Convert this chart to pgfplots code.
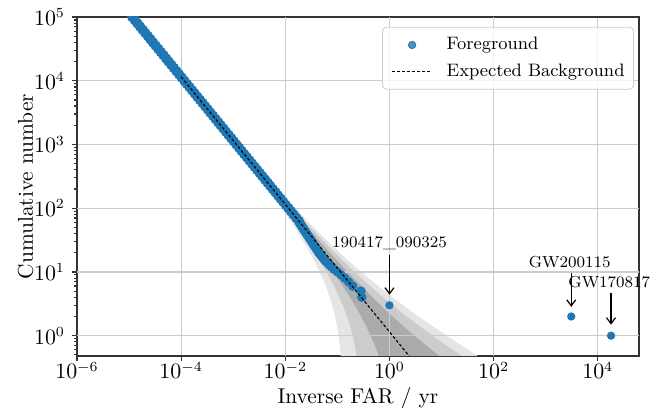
\documentclass[border=0pt]{standalone}
\usepackage{fontspec}
\usepackage{pgfplots}
\pgfplotsset{compat=1.18}
\usetikzlibrary{arrows.meta}
\definecolor{c0}{HTML}{1F77B4}
\definecolor{bandA}{gray}{0.67}
\definecolor{bandB}{gray}{0.80}
\definecolor{bandC}{gray}{0.90}
\tikzset{annarrow/.style={-{Straight Barb[length=3pt,width=4.5pt]}, line width=0.6pt},
         gridline/.style={black!20, line width=0.6pt}}
\begin{document}
\begin{tikzpicture}
\begin{axis}[
  xmode=log, ymode=log,
  scale only axis, width=281pt, height=169.5pt,
  at={(0,0)}, anchor=south west,
  xmin=1e-6, xmax=6.2e4, ymin=0.48, ymax=1e5,
  clip marker paths=true,
  xtick={1e-6,1e-4,1e-2,1,1e2,1e4},
  ytick={1,10,100,1000,10000,100000},
  minor ytick={0.5,0.6,0.7,0.8,0.9,2,3,4,5,6,7,8,9,20,30,40,50,60,70,80,90,200,300,400,500,600,700,800,900,2000,3000,4000,5000,6000,7000,8000,9000,20000,30000,40000,50000,60000,70000,80000,90000},
  tick pos=left, tick align=outside,
  major tick length=2.5pt, minor tick length=1.5pt,
  tick style={black!80, line width=0.6pt},
  grid=major, major grid style={gridline},
  axis line style={black!80, line width=0.6pt},
  ticklabel style={font=\fontsize{10.5}{12.6}\selectfont},
  xticklabel style={anchor=base, yshift=-9pt},
  label style={font=\fontsize{10.7}{12.8}\selectfont},
  xlabel={Inverse FAR / yr}, ylabel={Cumulative number},
  xlabel style={at={(axis description cs:0.5,0)}, anchor=base, yshift=-24pt},
  ylabel style={at={(axis description cs:-0.0783,0.5)}, anchor=base},
  legend cell align=left,
  legend style={at={(0.991,0.971)}, anchor=north east, draw=black!20, fill=white, fill opacity=0.8, draw opacity=1, text opacity=1, rounded corners=2pt, font=\fontsize{9}{11}\selectfont, inner xsep=4.5pt, inner ysep=5pt, row sep=5.5pt, column sep=7pt, nodes={inner sep=0pt}},
  legend image code/.code={\draw[mark repeat=2,mark phase=2,#1] plot coordinates {(0pt,0pt) (10pt,0pt) (20pt,0pt)};},
  after end axis/.code={
    \node[font=\fontsize{8}{10}\selectfont] at (axis cs:1,28.4) {190417\_090325};
    \draw[annarrow] (axis cs:1,18.5) -- (axis cs:1,4.4);
    \node[font=\fontsize{8}{10}\selectfont] at (axis cs:2900,14.3) {GW200115};
    \draw[annarrow] (axis cs:3100,9.6) -- (axis cs:3100,2.84);
    \node[font=\fontsize{8}{10}\selectfont] at (axis cs:16700,7) {GW170817};
    \draw[annarrow] (axis cs:18000,4.7) -- (axis cs:18000,1.49);
  },
]
% 3 sigma band
\addplot[fill=bandC, draw=none, forget plot] coordinates {
(0.00115,1094.9) (0.0023,567.1) (0.003833,352) (0.00575,242.4) (0.007667,186.7) (0.0115,130) (0.01643,95.1) (0.023,71.21) (0.03286,52.75) (0.046,40) (0.06389,30.73) (0.08846,23.82) (0.1278,18) (0.1769,14.15) (0.2556,10.86) (0.3594,8.567) (0.5227,6.649) (0.7667,5.175) (1.15,4) (1.643,3.21) (2.3,2.621) (3.286,2.125) (4.6,1.75) (6.389,1.453) (8.846,1.212) (12.78,1.0) (17.69,0.83) (25.56,0.6813) (35.94,0.5687) (52.27,0.4669) (76.67,0.3825) (115,0.31)
(0.1211,0.2534) (0.1186,0.3566) (0.115,0.5132) (0.1095,0.7789) (0.1,1.326) (0.08846,2.183) (0.07188,4) (0.0575,6.584) (0.046,10) (0.03286,17.25) (0.023,28.79) (0.01643,44.9) (0.0115,70) (0.007667,113.3) (0.00575,157.6) (0.003833,248) (0.0023,432.9) (0.00115,905.1)
};
% 2 sigma band
\addplot[fill=bandB, draw=none, forget plot] coordinates {
(0.00115,1063.2) (0.0023,544.7) (0.003833,334.6) (0.00575,228.3) (0.007667,174.5) (0.0115,120) (0.01643,86.73) (0.023,64.14) (0.03286,46.83) (0.046,35) (0.06389,26.49) (0.08846,20.21) (0.1278,15) (0.1769,11.6) (0.2556,8.743) (0.3594,6.778) (0.5227,5.166) (0.7667,3.95) (1.15,3) (1.643,2.373) (2.3,1.914) (3.286,1.533) (4.6,1.25) (6.389,1.029) (8.846,0.8511) (12.78,0.69) (17.69,0.575) (25.56,0.4692) (35.94,0.3898) (52.27,0.3186)
(0.2556,0.2574) (0.2447,0.3642) (0.23,0.5279) (0.217,0.6957) (0.1983,0.9834) (0.1769,1.4) (0.1533,2.023) (0.1278,3) (0.08846,5.788) (0.06389,9.515) (0.046,15) (0.03286,23.17) (0.023,35.86) (0.01643,53.27) (0.0115,80) (0.007667,125.5) (0.00575,171.7) (0.003833,265.4) (0.0023,455.3) (0.00115,936.8)
};
% 1 sigma band
\addplot[fill=bandA, draw=none, forget plot] coordinates {
(0.00115,1031.6) (0.0023,522.4) (0.003833,317.3) (0.00575,214.1) (0.007667,162.2) (0.0115,110) (0.01643,78.37) (0.023,57.07) (0.03286,40.92) (0.046,30) (0.06389,22.24) (0.08846,16.61) (0.1278,12) (0.1769,9.05) (0.2556,6.621) (0.3594,4.989) (0.5227,3.683) (0.7667,2.725) (1.15,2) (1.643,1.537) (2.3,1.207) (3.286,0.9416) (4.6,0.75) (6.389,0.6043) (8.846,0.4906) (12.78,0.39) (17.69,0.32)
(0.8214,0.2168) (0.7188,0.3351) (0.6389,0.4584) (0.575,0.5858) (0.5227,0.717) (0.3594,1.411) (0.2556,2.379) (0.1769,3.95) (0.1278,6) (0.08846,9.394) (0.06389,13.76) (0.046,20) (0.03286,29.08) (0.023,42.93) (0.01643,61.63) (0.0115,90) (0.007667,137.8) (0.00575,185.9) (0.003833,282.7) (0.0023,477.6) (0.00115,968.4)
};
% grid lines redrawn above the bands
\draw[gridline] (axis cs:1e-2,0.48) -- (axis cs:1e-2,1e5);
\draw[gridline] (axis cs:1,0.48) -- (axis cs:1,1e5);
\draw[gridline] (axis cs:1e2,0.48) -- (axis cs:1e2,1e5);
\draw[gridline] (axis cs:1e-6,1) -- (axis cs:6.2e4,1);
\draw[gridline] (axis cs:1e-6,10) -- (axis cs:6.2e4,10);
\draw[gridline] (axis cs:1e-6,100) -- (axis cs:6.2e4,100);
% foreground, dense part
\addplot[only marks, mark=*, mark size=2.4pt, mark options={fill=c0, draw=c0}, forget plot] coordinates {
(5.764e-6,1.995e5) (6.467e-6,1.778e5) (7.256e-6,1.585e5) (8.141e-6,1.413e5) (9.134e-6,1.259e5) (1.025e-5,1.122e5) (1.15e-5,1e5)
(1.291e-5,8.913e4) (1.448e-5,7.943e4) (1.625e-5,7.079e4) (1.823e-5,6.310e4) (2.045e-5,5.623e4) (2.295e-5,5.012e4) (2.575e-5,4.467e4) (2.889e-5,3.981e4) (3.241e-5,3.548e4) (3.637e-5,3.162e4) (4.081e-5,2.818e4) (4.578e-5,2.512e4) (5.137e-5,2.239e4) (5.764e-5,1.995e4) (6.467e-5,1.778e4) (7.256e-5,1.585e4) (8.141e-5,1.413e4) (9.134e-5,1.259e4) (1.025e-4,1.122e4) (1.15e-4,1e4)
(1.291e-4,8913) (1.448e-4,7943) (1.625e-4,7079) (1.823e-4,6310) (2.045e-4,5623) (2.295e-4,5012) (2.575e-4,4467) (2.889e-4,3981) (3.241e-4,3548) (3.637e-4,3162) (4.081e-4,2818) (4.578e-4,2512) (5.137e-4,2239) (5.764e-4,1995) (6.467e-4,1778) (7.256e-4,1585) (8.141e-4,1413) (9.134e-4,1259) (1.025e-3,1122) (1.15e-3,1000)
(1.291e-3,891.3) (1.448e-3,794.3) (1.625e-3,707.9) (1.823e-3,631.0) (2.045e-3,562.3) (2.295e-3,501.2) (2.575e-3,446.7) (2.889e-3,398.1) (3.241e-3,354.8) (3.637e-3,316.2) (4.081e-3,281.8) (4.578e-3,251.2) (5.137e-3,223.9) (5.764e-3,199.5) (6.467e-3,177.8) (7.256e-3,158.5) (8.141e-3,141.3) (9.134e-3,125.9) (1.025e-2,112.2) (1.15e-2,100)
(1.291e-2,89.13) (1.448e-2,79.43) (1.625e-2,70.79) (1.823e-2,63.10)
};
% foreground, tail
\addplot[only marks, mark=*, mark size=2.15pt, mark options={fill=c0, draw=c0}, forget plot] coordinates {
(0.01859,60) (0.01883,59) (0.01907,58) (0.01933,57) (0.01959,56) (0.01986,55) (0.02015,54) (0.02044,53) (0.02074,52) (0.02106,51) (0.02139,50) (0.02173,49) (0.02209,48) (0.02246,47) (0.02285,46) (0.02326,45) (0.02368,44) (0.02412,43) (0.02459,42) (0.02508,41) (0.02559,40) (0.0261,39) (0.02663,38) (0.0272,37) (0.02779,36) (0.02842,35) (0.02909,34) (0.0298,33) (0.03055,32) (0.03135,31) (0.0322,30) (0.03303,29) (0.03393,28) (0.03488,27) (0.03592,26) (0.03703,25) (0.03824,24) (0.03955,23) (0.04098,22) (0.04255,21) (0.04428,20) (0.04648,19) (0.04894,18) (0.05168,17) (0.05477,16) (0.05827,15) (0.06366,14) (0.06988,13) (0.07715,12) (0.08573,11) (0.10005,10) (0.1176,9) (0.138,8) (0.1643,7) (0.1974,6) (0.285,5) (0.295,4)
};
% foreground, loudest events
\addplot[only marks, mark=*, mark size=1.85pt, mark options={fill=c0, draw=c0}] coordinates {
(1.0,3) (3100,2) (18000,1)
};
\addlegendentry{Foreground}
% expected background
\addplot[black, line width=0.55pt, dash pattern=on 1.5pt off 1pt] coordinates {(1e-4,11500) (1e3,1.15e-3)};
\addlegendentry{Expected Background}
\end{axis}
\path (-38.5pt,-28.5pt) rectangle (293.5pt,178pt);
\end{tikzpicture}
\end{document}
